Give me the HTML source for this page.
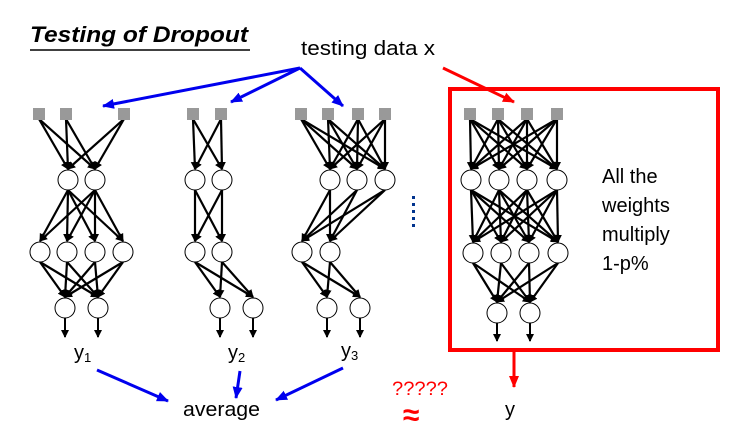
<!DOCTYPE html>
<html><head><meta charset="utf-8"><style>
html,body{margin:0;padding:0;background:#fff;width:729px;height:439px;overflow:hidden}
svg{display:block}
text{font-family:"Liberation Sans",sans-serif}
</style></head><body>
<svg id="s" width="729" height="439" viewBox="0 0 729 439" xmlns="http://www.w3.org/2000/svg">
<defs>
<marker id="ak" markerWidth="8" markerHeight="8" refX="7" refY="4" orient="auto" markerUnits="userSpaceOnUse"><path d="M0,0L8,4L0,8z" fill="#000"/></marker>
<marker id="ab" markerWidth="12" markerHeight="10" refX="11" refY="5" orient="auto" markerUnits="userSpaceOnUse"><path d="M0,0L12,5L0,10z" fill="#0000ee"/></marker>
<marker id="ar" markerWidth="12" markerHeight="10" refX="11" refY="5" orient="auto" markerUnits="userSpaceOnUse"><path d="M0,0L12,5L0,10z" fill="#f00"/></marker>
</defs>
<g id="nets"></g>
<text x="30" y="42" font-size="22" font-weight="bold" font-style="italic" textLength="218" lengthAdjust="spacingAndGlyphs">Testing of Dropout</text>
<line x1="30" y1="50" x2="250" y2="50" stroke="#000" stroke-width="1.5"/>
<text x="301" y="55" font-size="20" textLength="134" lengthAdjust="spacingAndGlyphs">testing data x</text>
<g stroke="#0000ee" stroke-width="3" marker-end="url(#ab)">
<line x1="300" y1="68" x2="103" y2="106"/>
<line x1="300" y1="68" x2="231" y2="102"/>
<line x1="300" y1="68" x2="343" y2="106"/>
<line x1="97" y1="370" x2="168" y2="401"/>
<line x1="240" y1="371" x2="236" y2="398"/>
<line x1="343" y1="368" x2="276" y2="400"/>
</g>
<line x1="443" y1="68" x2="514" y2="102" stroke="#f00" stroke-width="3" marker-end="url(#ar)"/>
<rect x="450" y="89" width="268" height="261" fill="none" stroke="#f00" stroke-width="4"/>
<line x1="514" y1="351" x2="514" y2="387" stroke="#f00" stroke-width="3" marker-end="url(#ar)"/>
<g font-size="20">
<text x="602" y="183">All the</text>
<text x="602" y="212">weights</text>
<text x="602" y="241">multiply</text>
<text x="602" y="270">1-p%</text>
<text x="74" y="359">y<tspan font-size="13" dy="3">1</tspan></text>
<text x="228" y="359">y<tspan font-size="13" dy="3">2</tspan></text>
<text x="341" y="357">y<tspan font-size="13" dy="3">3</tspan></text>
<text x="183" y="416" textLength="77" lengthAdjust="spacingAndGlyphs">average</text>
<text x="505" y="416">y</text>
</g>
<text x="392" y="395" font-size="19" fill="#f00" textLength="56" lengthAdjust="spacingAndGlyphs">?????</text>
<text x="403" y="425" font-size="30" font-weight="bold" fill="#f00">≈</text>
<g fill="#00338d"><rect x="412" y="196" width="3" height="3"/><rect x="412" y="203" width="3" height="3"/><rect x="412" y="210" width="3" height="3"/><rect x="412" y="217" width="3" height="3"/><rect x="412" y="224" width="3" height="3"/></g>
</svg>
<script>
const NS="http://www.w3.org/2000/svg",g=document.getElementById('nets');
function el(t,a){const e=document.createElementNS(NS,t);for(const k in a)e.setAttribute(k,a[k]);g.appendChild(e);return e;}
const R=10;
const nets=[
 {inp:[39,66,124],iy:114,layers:[{y:180,x:[68,95]},{y:252,x:[40,67,95,123]},{y:308,x:[65,98]}],oy:337},
 {inp:[193,221],iy:114,layers:[{y:180,x:[195,222]},{y:252,x:[195,222]},{y:308,x:[220,253]}],oy:337},
 {inp:[301,328,358,385],iy:114,layers:[{y:180,x:[330,357,385]},{y:252,x:[302,330]},{y:308,x:[327,360]}],oy:337},
 {inp:[470,498,527,557],iy:114,layers:[{y:180,x:[471,499,527,557]},{y:253,x:[473,501,529,558]},{y:313,x:[497,530]}],oy:341}
];
for(const n of nets){
 let prev=n.inp.map(x=>({x,y:n.iy+5}));
 for(const L of n.layers){
  for(const p of prev)for(const x of L.x){
   el('line',{x1:p.x,y1:p.y,x2:x,y2:L.y-R-1,stroke:'#000','stroke-width':2.2,'marker-end':'url(#ak)'});
  }
  prev=L.x.map(x=>({x,y:L.y+R}));
 }
 for(const p of prev)el('line',{x1:p.x,y1:p.y,x2:p.x,y2:n.oy,stroke:'#000','stroke-width':2,'marker-end':'url(#ak)'});
 for(const x of n.inp)el('rect',{x:x-6,y:n.iy-6,width:12,height:12,fill:'#999'});
 for(const L of n.layers)for(const x of L.x)el('circle',{cx:x,cy:L.y,r:R,fill:'#fff',stroke:'#000','stroke-width':1});
}
</script>
</body></html>
